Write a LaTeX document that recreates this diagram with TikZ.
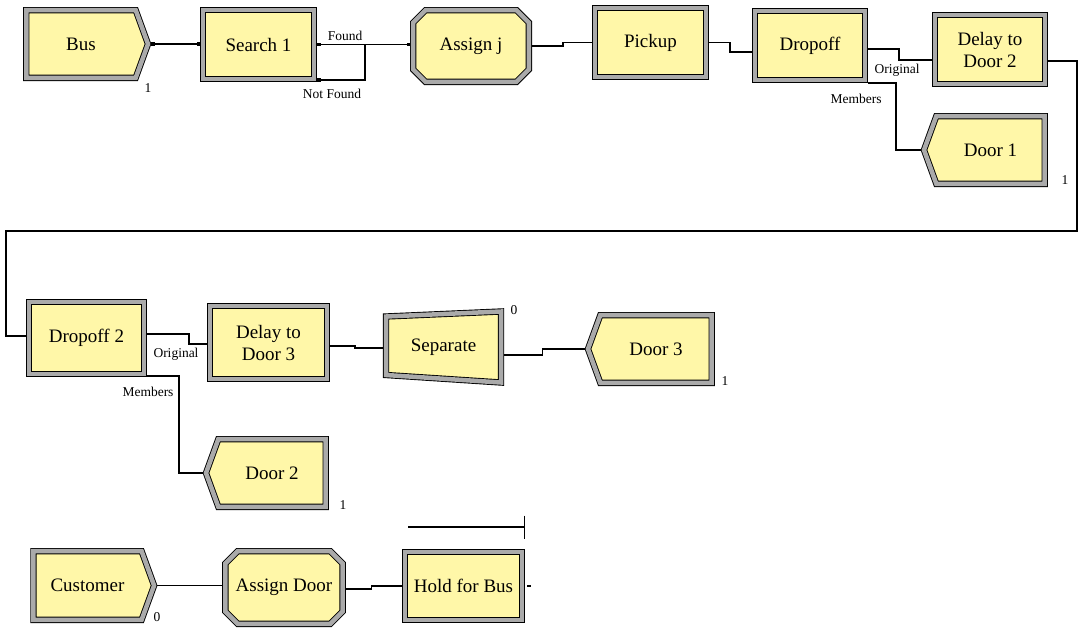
\documentclass[tikz,border=0pt]{standalone}
\usepackage{fontspec}
\setmainfont{Liberation Serif}
\usetikzlibrary{shapes.misc,shapes.symbols,arrows.meta,calc}
\definecolor{modyellow}{RGB}{255,247,168}
\definecolor{modgray}{RGB}{170,170,170}
\newcommand{\modfont}{\rmfamily\fontsize{19}{22}\selectfont}
\newcommand{\lblfont}{\rmfamily\fontsize{13.5}{15}\selectfont}

\begin{document}
\begin{tikzpicture}[x=1pt, y=-1pt,
  frame/.style={line width=0.9pt, double=modgray, double distance=4.5pt, fill=modyellow},
  mod/.style={draw, frame, outer sep=3.15pt, inner sep=1pt, align=center, font=\modfont},
  sz/.style 2 args={minimum width=#1pt-6.3pt, minimum height=#2pt-6.3pt},
  proc/.style={mod, rectangle},
  asgn/.style={mod, chamfered rectangle, chamfered rectangle xsep=12pt},
  crt/.style={mod, signal, signal to=east, signal pointer angle=140},
  dsp/.style={mod, signal, signal to=west, signal pointer angle=140},
  lbl/.style={font=\lblfont, inner sep=0pt},
  cn/.style={line width=1.2pt},
  port/.style={cn, {Square[length=3.5pt,width=3.5pt]}-{Square[length=3.5pt,width=3.5pt]}}
]
\useasboundingbox (0,0) rectangle (1079,630);

% first row: bus
\node[crt, sz={128}{74}] (bus) at (81,44) {Bus};
\node[proc, sz={117}{75}] (search) at (258.5,44.5) {Search 1};
\node[asgn, sz={122}{78}] (assignj) at (471,46) {Assign j};
\node[proc, sz={117}{75}] (pickup) at (650.5,42.5) {Pickup};
\node[proc, sz={116}{75}] (dropoff) at (810,45.5) {Dropoff};
\node[proc, sz={116}{75}] (delay2) at (990,49.5) {Delay to\\Door 2};
\node[dsp, sz={127}{74}] (door1) at (990.5,150) {Door 1};

% second row
\node[proc, sz={121}{78}] (dropoff2) at (86.5,338) {Dropoff 2};
\node[proc, sz={123}{79}] (delay3) at (268.5,342.5) {Delay to\\Door 3};
\draw[frame] (386,316.5) -- (501,311.5) -- (501,382.5) -- (386,375) -- cycle;
\node[font=\modfont, inner sep=0pt, minimum width=121pt, minimum height=66pt] (sep) at (443.5,347) {Separate};
\node[dsp, sz={130}{74}] (door3) at (656,349) {Door 3};
\node[dsp, sz={126}{74}] (door2) at (272,473) {Door 2};

% customers
\node[crt, sz={127}{75}] (customer) at (87.5,585.5) {Customer};
\node[asgn, sz={122}{79}] (assigndoor) at (284,587.5) {Assign Door};
\node[proc, sz={123}{74}] (hold) at (463.5,586) {Hold for Bus};

% connectors
\draw[port] (bus.east) -- (bus.east -| search.west);
\draw[port] (search.east) -- (search.east -| assignj.west);
\draw[cn, {Square[length=3.5pt,width=3.5pt]}-] ([yshift=2pt]search.south east) -| ($(search.east)+(48,0)$);
\draw[cn] (assignj.east) -- ++(31,0) |- (pickup.west);
\draw[cn] (pickup.east) -- ++(21,0) |- ([yshift=-6.5pt]dropoff.west);
\draw[cn] ([yshift=-3.5pt]dropoff.east) -- ++(31,0) |- ([yshift=-10.5pt]delay2.west);
\draw[cn] (dropoff.south east) -- ++(28,0) |- (door1.west);
\coordinate (wrap) at (6,231);
\draw[cn] ([yshift=-11.5pt]delay2.east) -- ++(29,0) |- (wrap) |- ([yshift=2pt]dropoff2.west);
\draw[cn] ([yshift=4pt]dropoff2.east) -- ++(42,0) |- ([yshift=-1.5pt]delay3.west);
\draw[cn] ([yshift=1pt]dropoff2.south east) -- ++(32,0) |- (door2.west);
\draw[cn] ([yshift=-3.5pt]delay3.east) -- ++(25,0) |- ([yshift=-1pt]sep.west);
\draw[cn] ([yshift=-8pt]sep.east) -- ++(38,0) |- (door3.west);
\draw[cn] (customer.east) -- (customer.east -| assigndoor.west);
\draw[cn] ([yshift=-1.5pt]assigndoor.east) -- ++(26,0) |- (hold.west);
\draw[cn] ([xshift=2pt]hold.east) -- ++(4,0);
\coordinate (qL) at ($(hold.north east)+(-117,-22)$);
\coordinate (qR) at ($(hold.north east)+(0,-22)$);
\draw[cn, -{Bar[width=23pt,line width=1.5pt]}] (qL) -- (qR);

% labels
\node[lbl] (found) at (345,36) {Found};
\node[lbl] (notfound) at (332,94) {Not Found};
\node[lbl] (orig1) at (897,70) {Original};
\node[lbl] (memb1) at (856,99) {Members};
\node[lbl] (orig2) at (176,354) {Original};
\node[lbl] (memb2) at (148,392) {Members};
\node[lbl] (nbus) at (148,88) {1};
\node[lbl] (ndoor1) at (1065,180) {1};
\node[lbl] (nsep) at (514,310) {0};
\node[lbl] (ndoor3) at (725,381) {1};
\node[lbl] (ndoor2) at (343,505) {1};
\node[lbl] (ncust) at (157,617) {0};
\end{tikzpicture}
\end{document}
